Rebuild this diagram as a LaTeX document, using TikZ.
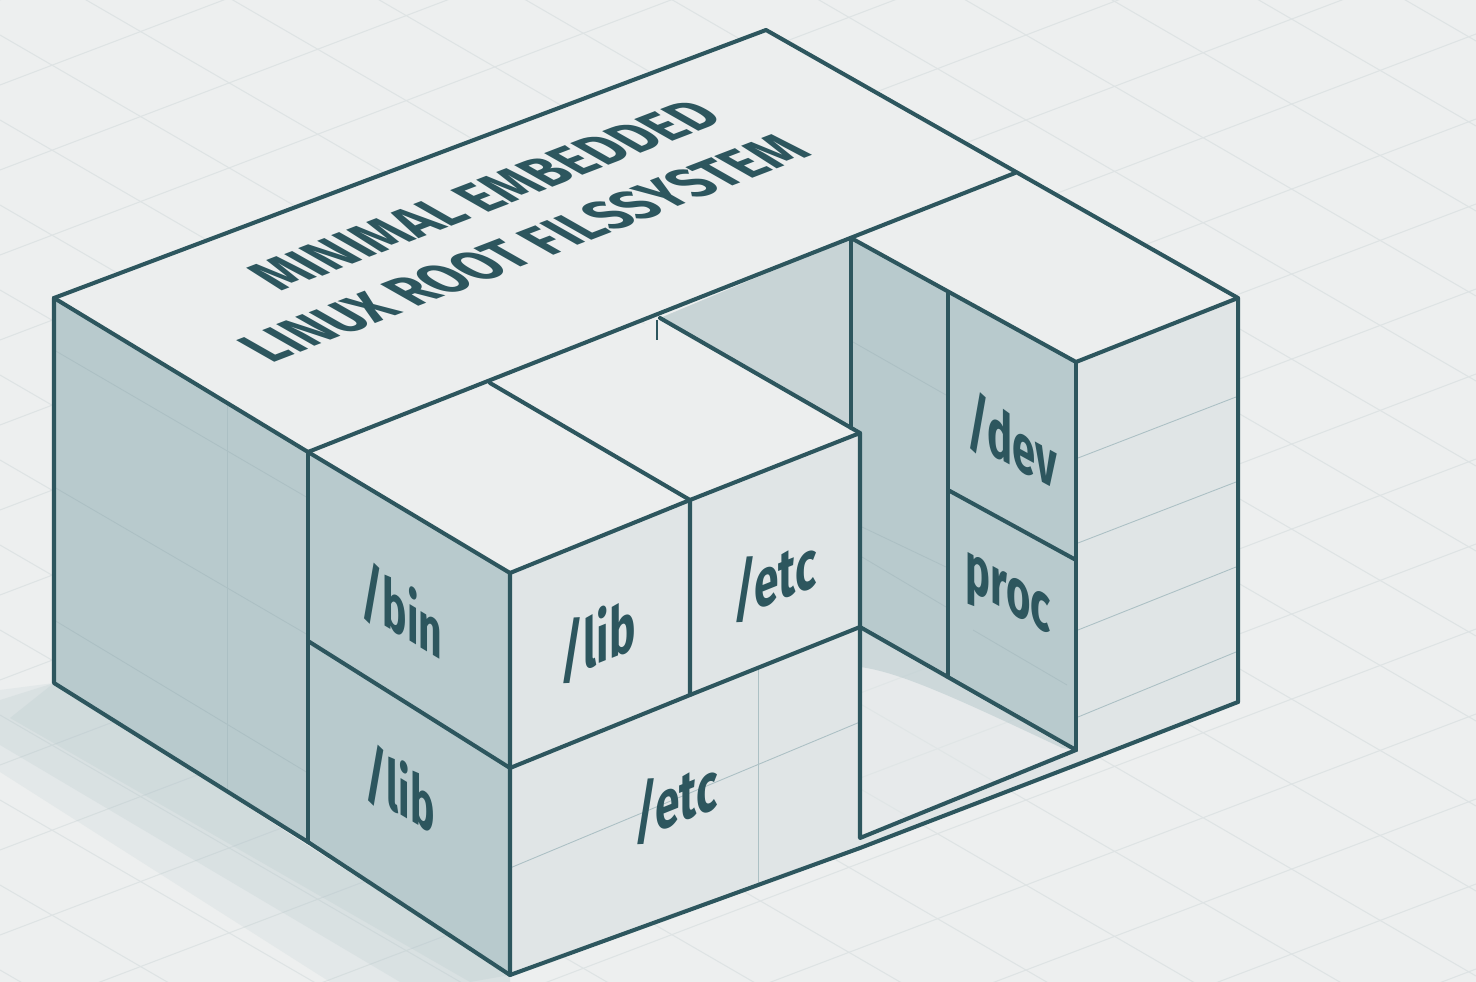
\documentclass[tikz,border=0pt]{standalone}
\usepackage{fontspec}
\setmainfont{Fira Sans}
\definecolor{bgc}{RGB}{237,239,239}
\definecolor{topc}{RGB}{236,238,238}
\definecolor{frontc}{RGB}{224,229,230}
\definecolor{sidec}{RGB}{184,202,205}
\definecolor{wallc}{RGB}{200,212,214}
\definecolor{floorc}{RGB}{226,231,232}
\definecolor{inkc}{RGB}{45,86,94}
\definecolor{faintc}{RGB}{172,192,196}
\definecolor{gridc}{RGB}{222,227,228}
\definecolor{shadowc}{RGB}{175,195,199}
\newcommand{\facelabel}[5]{%
  \begin{scope}[shift={(#2,#3)}]
    \node[lbl, transform shape, cm={#4,(0,0)}] (#1) at (0,0) {#5};
  \end{scope}}
\newcommand{\titlelabel}[4]{%
  \begin{scope}[shift={(#2,#3)}]
    \node[ttl, transform shape, cm={0.933,0.359,-1.044,0.593,(0,0)}] (#1) at (0,0) {#4};
  \end{scope}}
\begin{document}
\begin{tikzpicture}[x=0.02cm,y=-0.02cm,
  edge/.style={draw=inkc,line width=2.3pt,line join=round,line cap=round},
  faintline/.style={draw=faintc,line width=0.5pt},
  gridline/.style={draw=gridc,line width=0.6pt},
  lbl/.style={text=inkc,font=\bfseries\fontsize{34}{40}\selectfont,inner sep=0pt},
  ttl/.style={text=inkc,font=\bfseries\fontsize{30}{34}\selectfont,inner sep=0pt}]
\useasboundingbox (0,0) rectangle (1476,982);
\fill[bgc] (0,0) rectangle (1476,982);
% ground grid
\begin{scope}
\clip (0,0) rectangle (1476,982);
\foreach \c in {0,85,...,1600} \draw[gridline] (0,\c) -- (1476,\c-561);
\foreach \c in {-900,-815,...,1000} \draw[gridline] (0,\c) -- (1476,\c+856);
\end{scope}
% ground shadow
\fill[shadowc,opacity=.15] (54,683) -- (510,975) -- (510,982) -- (330,982) -- (0,772) -- (0,690) -- cycle;
\fill[shadowc,opacity=.18] (54,683) -- (510,975) -- (510,982) -- (400,982) -- (0,745) -- (0,700) -- cycle;
\fill[shadowc,opacity=.2] (54,683) -- (510,975) -- (470,982) -- (10,718) -- cycle;
% side faces
\fill[sidec] (54,298) -- (308,452) -- (308,842) -- (54,683) -- cycle;
\fill[sidec] (308,452) -- (510,573) -- (510,975) -- (308,842) -- cycle;
% alcove back wall
\fill[wallc] (660,318) -- (851,238) -- (851,428) -- cycle;
% tower left face
\fill[sidec] (851,238) -- (1076,362) -- (1076,750) -- (851,622) -- cycle;
% alcove floor
\fill[floorc,opacity=.5] (860,627) -- (1076,750) -- (860,838) -- cycle;
\fill[sidec,opacity=.55] (860,627) -- (1076,750) -- (1062,748) .. controls (960,700) and (900,672) .. (860,667) -- cycle;
% top faces
\fill[topc] (54,298) -- (766,30) -- (1015,173) -- (308,452) -- cycle;
\fill[topc] (851,238) -- (1015,173) -- (1238,298) -- (1076,362) -- cycle;
\fill[topc] (308,452) -- (660,318) -- (860,433) -- (510,573) -- cycle;
% front faces
\fill[frontc] (510,573) -- (860,433) -- (860,848) -- (510,975) -- cycle;
\fill[frontc] (860,838) -- (1076,750) -- (1076,765) -- (860,848) -- cycle;
\fill[frontc] (1076,362) -- (1238,298) -- (1238,702) -- (1076,765) -- cycle;
% faint lines on faces
\draw[faintline] (54,350) -- (308,498);
\draw[faintline] (54,487) -- (308,635);
\draw[faintline] (54,620) -- (308,773);
\draw[faintline] (227,403) -- (227,791);
\draw[faintline] (510,868) -- (860,722);
\draw[faintline] (758,668) -- (758,885);
\draw[faintline] (1078,458) -- (1236,397);
\draw[faintline] (1078,543) -- (1236,482);
\draw[faintline] (1078,630) -- (1236,567);
\draw[faintline] (1078,717) -- (1236,652);
\draw[faintline] (853,342) -- (946,395);
\draw[faintline] (862,527) -- (946,567);
\draw[faintline] (862,557) -- (946,607);
\draw[faintline] (973,630) -- (1067,685);
% edges
\draw[edge] (54,298) -- (766,30) -- (1238,298) -- (1238,702);
\draw[edge] (54,298) -- (54,683) -- (308,842) -- (510,975) -- (860,848) -- (1076,765) -- (1238,702);
\draw[edge] (54,298) -- (308,452) -- (510,573) -- (510,975);
\draw[edge] (308,452) -- (308,842);
\draw[edge] (308,641) -- (510,768);
\draw[edge] (308,452) -- (1015,173);
\draw[edge] (490,383) -- (690,500) -- (690,695);
\draw[edge] (510,573) -- (690,500) -- (860,433) -- (860,838) -- (1076,750);
\draw[edge] (660,318) -- (860,433);
\draw[edge] (510,768) -- (690,695) -- (860,627) -- (1076,750);
\draw[edge] (851,238) -- (851,428);
\draw[edge] (851,238) -- (1076,362) -- (1238,298);
\draw[edge] (1076,362) -- (1076,750);
\draw[edge] (948,292) -- (948,677);
\draw[edge] (948,490) -- (1076,560);
\draw[draw=inkc,line width=0.8pt] (657,320) -- (657,340);
% title on the top face
\titlelabel{title1}{485}{195}{MINIMAL EMBEDDED}
\titlelabel{title2}{524}{248}{LINUX ROOT FILSSYSTEM}
% labels on left faces
\facelabel{bin}{402}{612}{0.686,-0.411,0,1.15}{/bin}
\facelabel{liblow}{400}{790}{0.686,-0.411,0,1.15}{/lib}
\facelabel{dev}{1012}{442}{0.701,-0.386,0,1.15}{/dev}
\facelabel{proc}{1008}{600}{0.701,-0.386,0,1.15}{proc}
% labels on front faces
\facelabel{libup}{598}{640}{0.742,0.297,0,1.15}{/lib}
\facelabel{etcup}{775}{578}{0.742,0.297,0,1.15}{/etc}
\facelabel{etclow}{676}{800}{0.742,0.297,0,1.15}{/etc}
\end{tikzpicture}
\end{document}
